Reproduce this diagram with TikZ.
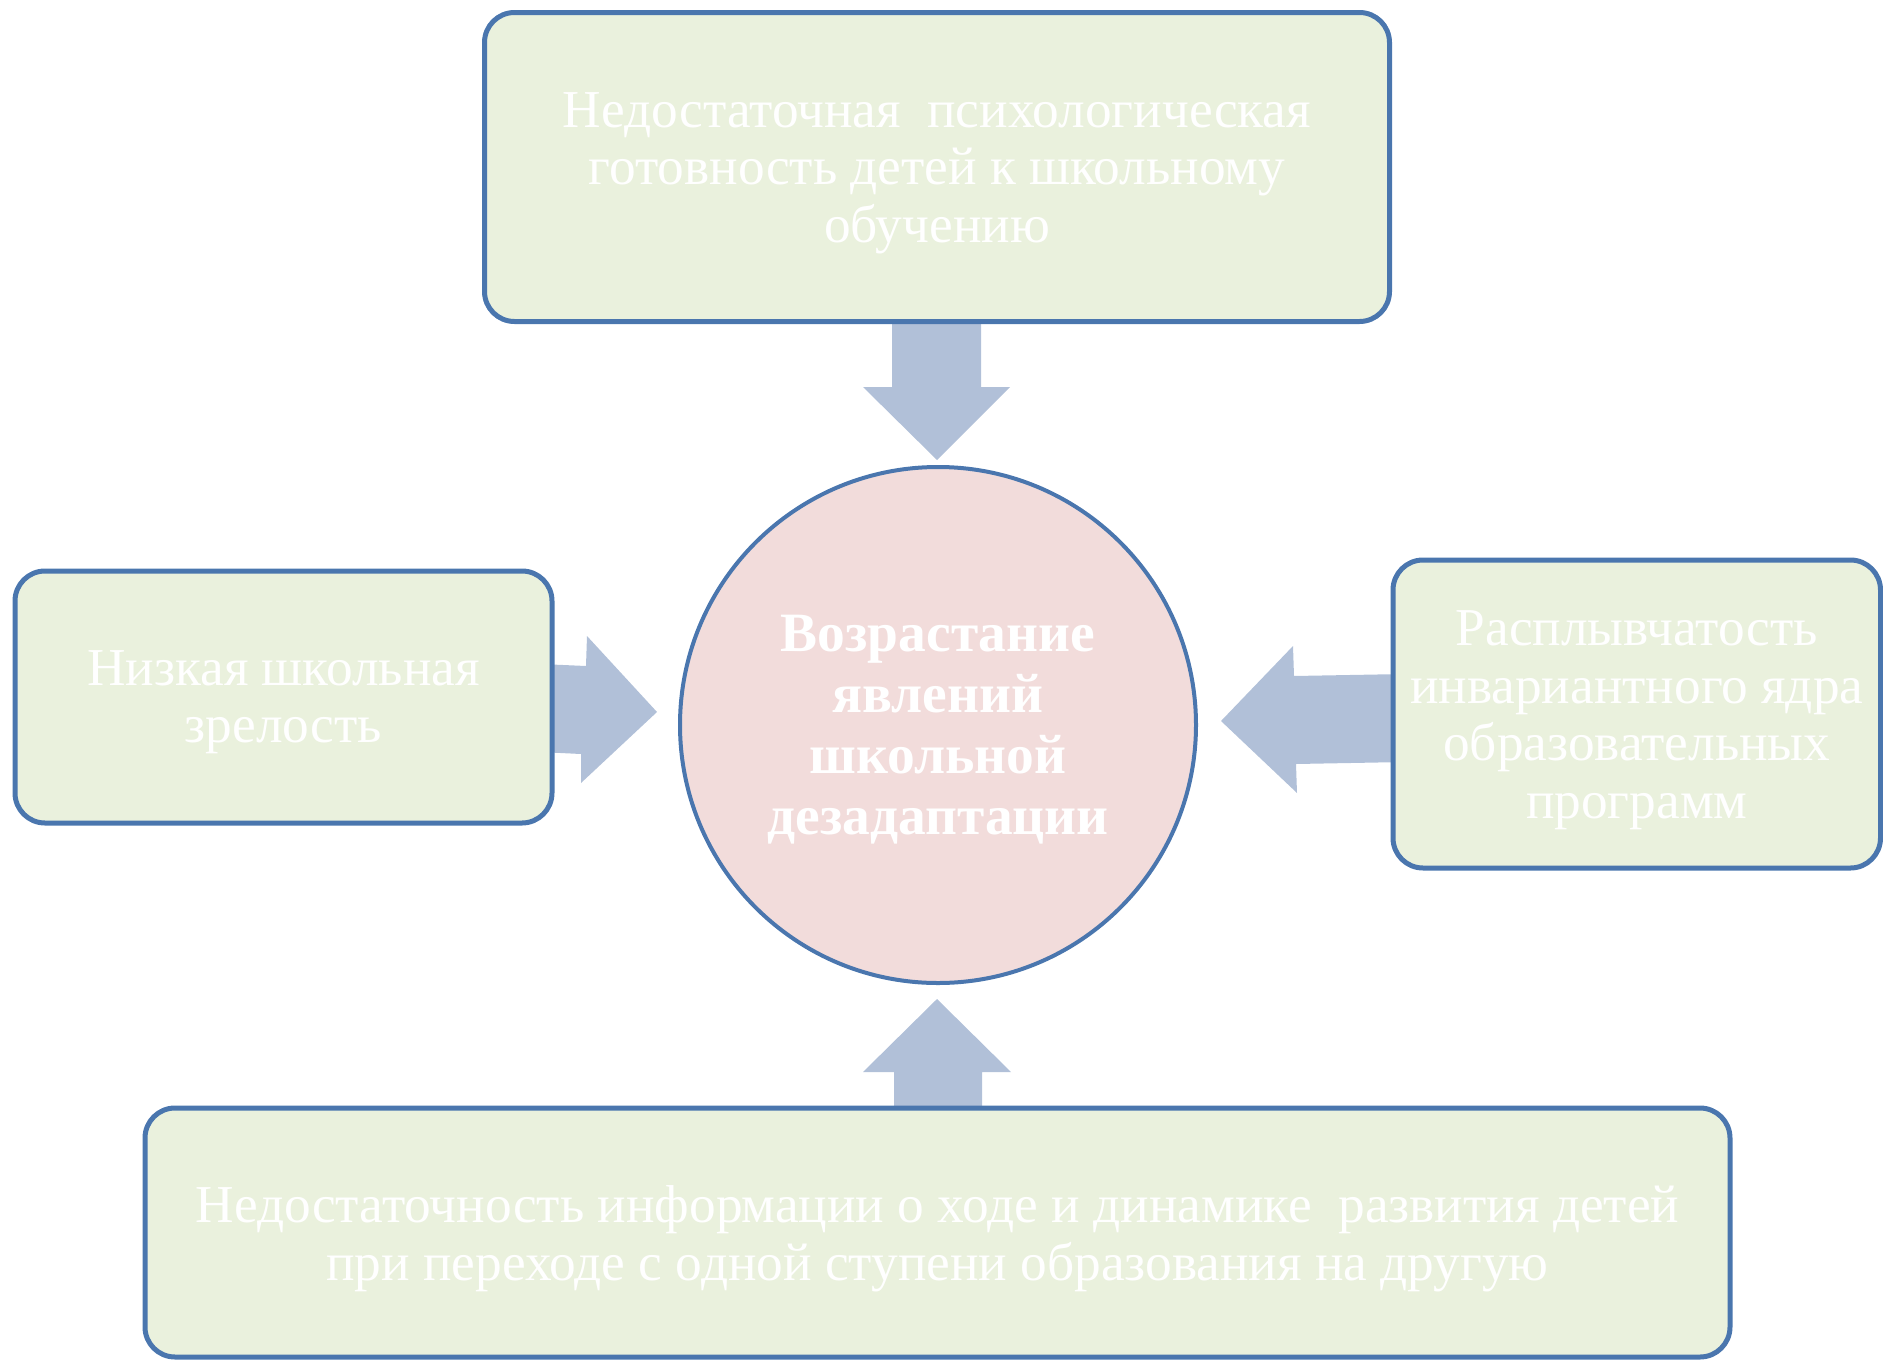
\documentclass[tikz,border=0pt]{standalone}
\usepackage{fontspec}
\setmainfont{Liberation Serif}
\definecolor{boxfill}{HTML}{EAF1DD}
\definecolor{boxline}{HTML}{4A76AE}
\definecolor{arrowfill}{HTML}{B1C0D8}
\definecolor{circfill}{HTML}{F2DCDB}
\tikzset{
  causebox/.style={draw=boxline, line width=5pt, fill=boxfill, rounded corners=30pt, inner sep=0pt},
  causetext/.style={text=white, align=center, inner sep=0pt, font=\fontsize{53.3}{57.5}\selectfont},
  centercirc/.style={circle, draw=boxline, line width=4pt, fill=circfill, inner sep=0pt},
  centertext/.style={text=white, align=center, inner sep=0pt, font=\fontsize{55.5}{61}\selectfont\bfseries},
  blockarrow/.style={fill=arrowfill, draw=none}
}
\begin{document}
\begin{tikzpicture}[x=1pt,y=-1pt]
\useasboundingbox (0,0) rectangle (1883,1360);
% block arrows (drawn first so boxes cover their bases)
\fill[blockarrow] (892,310) -- (981,310) -- (981,387) -- (1010,387) -- (937,460) -- (863,387) -- (892,387) -- cycle;
\fill[blockarrow] (894,1120) -- (982,1120) -- (982,1072) -- (1011,1072) -- (937,999) -- (863,1072) -- (894,1072) -- cycle;
\fill[blockarrow] (540,664) -- (586,666) -- (587,636) -- (657,712) -- (581,783) -- (581,754) -- (540,752) -- cycle;
\fill[blockarrow] (1405,674) -- (1294,676) -- (1293,646) -- (1221,721) -- (1297,793) -- (1296,764) -- (1405,762) -- cycle;
% boxes
\node[causebox, minimum width=905pt, minimum height=309pt] (top) at (937,167) {};
\node[causebox, minimum width=537pt, minimum height=252pt] (left) at (283.5,697) {};
\node[causebox, minimum width=487.5pt, minimum height=308pt] (right) at (1636.75,714) {};
\node[causebox, minimum width=1585pt, minimum height=249pt] (bottom) at (937.5,1232.5) {};
\node[centercirc, minimum size=516pt] (core) at (938,725) {};
% texts
\node[causetext] (toptext) at ([yshift=-6pt]top.center)
  {Недостаточная\ \ психологическая\\готовность детей к школьному\\обучению};
\node[causetext] (lefttext) at ([yshift=-5pt]left.center)
  {Низкая школьная\\зрелость};
\node[causetext] (righttext) at ([yshift=-6pt]right.center)
  {Расплывчатость\\инвариантного ядра\\образовательных\\программ};
\node[causetext] (bottomtext) at ([yshift=-6pt]bottom.center)
  {Недостаточность информации о ходе и динамике\ \ развития детей\\при переходе с одной ступени образования на другую};
\node[centertext] (coretext) at ([yshift=-5pt]core.center)
  {Возрастание\\явлений\\школьной\\дезадаптации};
\end{tikzpicture}
\end{document}
